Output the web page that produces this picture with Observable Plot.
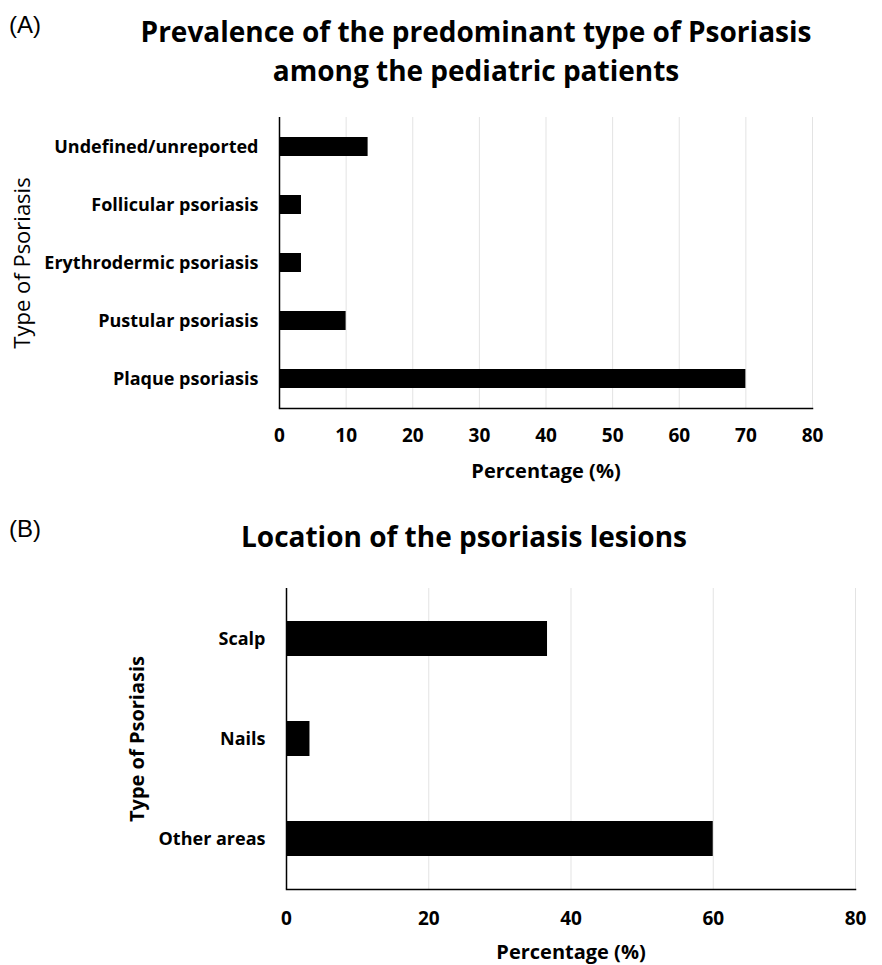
<!DOCTYPE html>
<html>
<head>
<meta charset="utf-8">
<script src="https://cdn.jsdelivr.net/npm/d3@7"></script>
<script src="https://cdn.jsdelivr.net/npm/@observablehq/plot@0.6"></script>
<style>
  body { margin: 0; background: #fff; }
  #root { position: relative; width: 882px; height: 965px; font-family: "Open Sans", sans-serif; color: #000; overflow: hidden; }
  .tag { position: absolute; left: 9px; font-family: "Liberation Sans", Arial, sans-serif; font-size: 24px; line-height: 30px; }
  .title { position: absolute; text-align: center; font-weight: bold; font-size: 28px; line-height: 39px; white-space: nowrap; }
  .panel { position: absolute; left: 0; }
</style>
</head>
<body>
<div id="root">
  <div class="tag" style="top:10px;">(A)</div>
  <div class="title" style="left:76px;width:800px;top:12px;">Prevalence of the predominant type of Psoriasis<br>among the pediatric patients</div>
  <div class="panel" id="panelA" style="top:100px;"></div>
  <div class="tag" style="top:514px;">(B)</div>
  <div class="title" style="left:64px;width:800px;top:517px;">Location of the psoriasis lesions</div>
  <div class="panel" id="panelB" style="top:570px;"></div>
</div>
<script>
// Panel A data
const typesA = ["Undefined/unreported", "Follicular psoriasis", "Erythrodermic psoriasis", "Pustular psoriasis", "Plaque psoriasis"];
const valuesA = [13.3, 3.3, 3.3, 10, 70];
const ticksA = [0, 10, 20, 30, 40, 50, 60, 70, 80];
const xLabelA = "Percentage (%)";
const yLabelA = "Type of Psoriasis";

// Panel B data
const locationsB = ["Scalp", "Nails", "Other areas"];
const valuesB = [36.7, 3.3, 60];
const ticksB = [0, 20, 40, 60, 80];
const xLabelB = "Percentage (%)";
const yLabelB = "Type of Psoriasis";

const dataA = typesA.map((t, i) => ({type: t, value: valuesA[i]}));
const dataB = locationsB.map((t, i) => ({type: t, value: valuesB[i]}));

const gridColor = "#e3e3e3";
const font = "'Open Sans', sans-serif";

const plotA = Plot.plot({
  width: 882, height: 390,
  marginTop: 17, marginBottom: 82, marginLeft: 279, marginRight: 70,
  style: {fontFamily: font, color: "#000", background: "#fff", overflow: "visible"},
  x: {domain: [0, 80], ticks: ticksA, label: null},
  y: {domain: typesA, paddingInner: 0.67, paddingOuter: 0.335, label: null},
  marks: [
    Plot.gridX(ticksA.slice(1), {stroke: gridColor, strokeOpacity: 1, strokeWidth: 1}),
    Plot.barX(dataA, {x: "value", y: "type", fill: "#000"}),
    Plot.ruleX([0], {stroke: "#000", strokeWidth: 1.5}),
    Plot.frame({anchor: "bottom", stroke: "#000", strokeWidth: 1.5}),
    Plot.axisX(ticksA, {tickSize: 0, tickPadding: 20, fontSize: 19, fontWeight: "bold", label: null}),
    Plot.axisY({tickSize: 0, tickPadding: 21, fontSize: 18, fontWeight: "bold", label: null}),
    Plot.text([xLabelA], {text: d => d, frameAnchor: "bottom", dy: 69, fontSize: 20, fontWeight: "bold"}),
    Plot.text([yLabelA], {text: d => d, frameAnchor: "left", textAnchor: "middle", dx: -257, rotate: -90, fontSize: 22})
  ]
});
document.getElementById("panelA").appendChild(plotA);

const plotB = Plot.plot({
  width: 882, height: 395,
  marginTop: 18, marginBottom: 76, marginLeft: 286, marginRight: 27,
  style: {fontFamily: font, color: "#000", background: "#fff", overflow: "visible"},
  x: {domain: [0, 80], ticks: ticksB, label: null},
  y: {domain: locationsB, paddingInner: 0.65, paddingOuter: 0.325, label: null},
  marks: [
    Plot.gridX(ticksB.slice(1), {stroke: gridColor, strokeOpacity: 1, strokeWidth: 1}),
    Plot.barX(dataB, {x: "value", y: "type", fill: "#000"}),
    Plot.ruleX([0], {stroke: "#000", strokeWidth: 1.5}),
    Plot.frame({anchor: "bottom", stroke: "#000", strokeWidth: 1.5}),
    Plot.axisX(ticksB, {tickSize: 0, tickPadding: 22, fontSize: 19, fontWeight: "bold", label: null}),
    Plot.axisY({tickSize: 0, tickPadding: 21, fontSize: 18, fontWeight: "bold", label: null}),
    Plot.text([xLabelB], {text: d => d, frameAnchor: "bottom", dy: 69, fontSize: 20, fontWeight: "bold"}),
    Plot.text([yLabelB], {text: d => d, frameAnchor: "left", textAnchor: "middle", dx: -149, rotate: -90, fontSize: 20, fontWeight: "bold"})
  ]
});
document.getElementById("panelB").appendChild(plotB);
</script>
</body>
</html>
